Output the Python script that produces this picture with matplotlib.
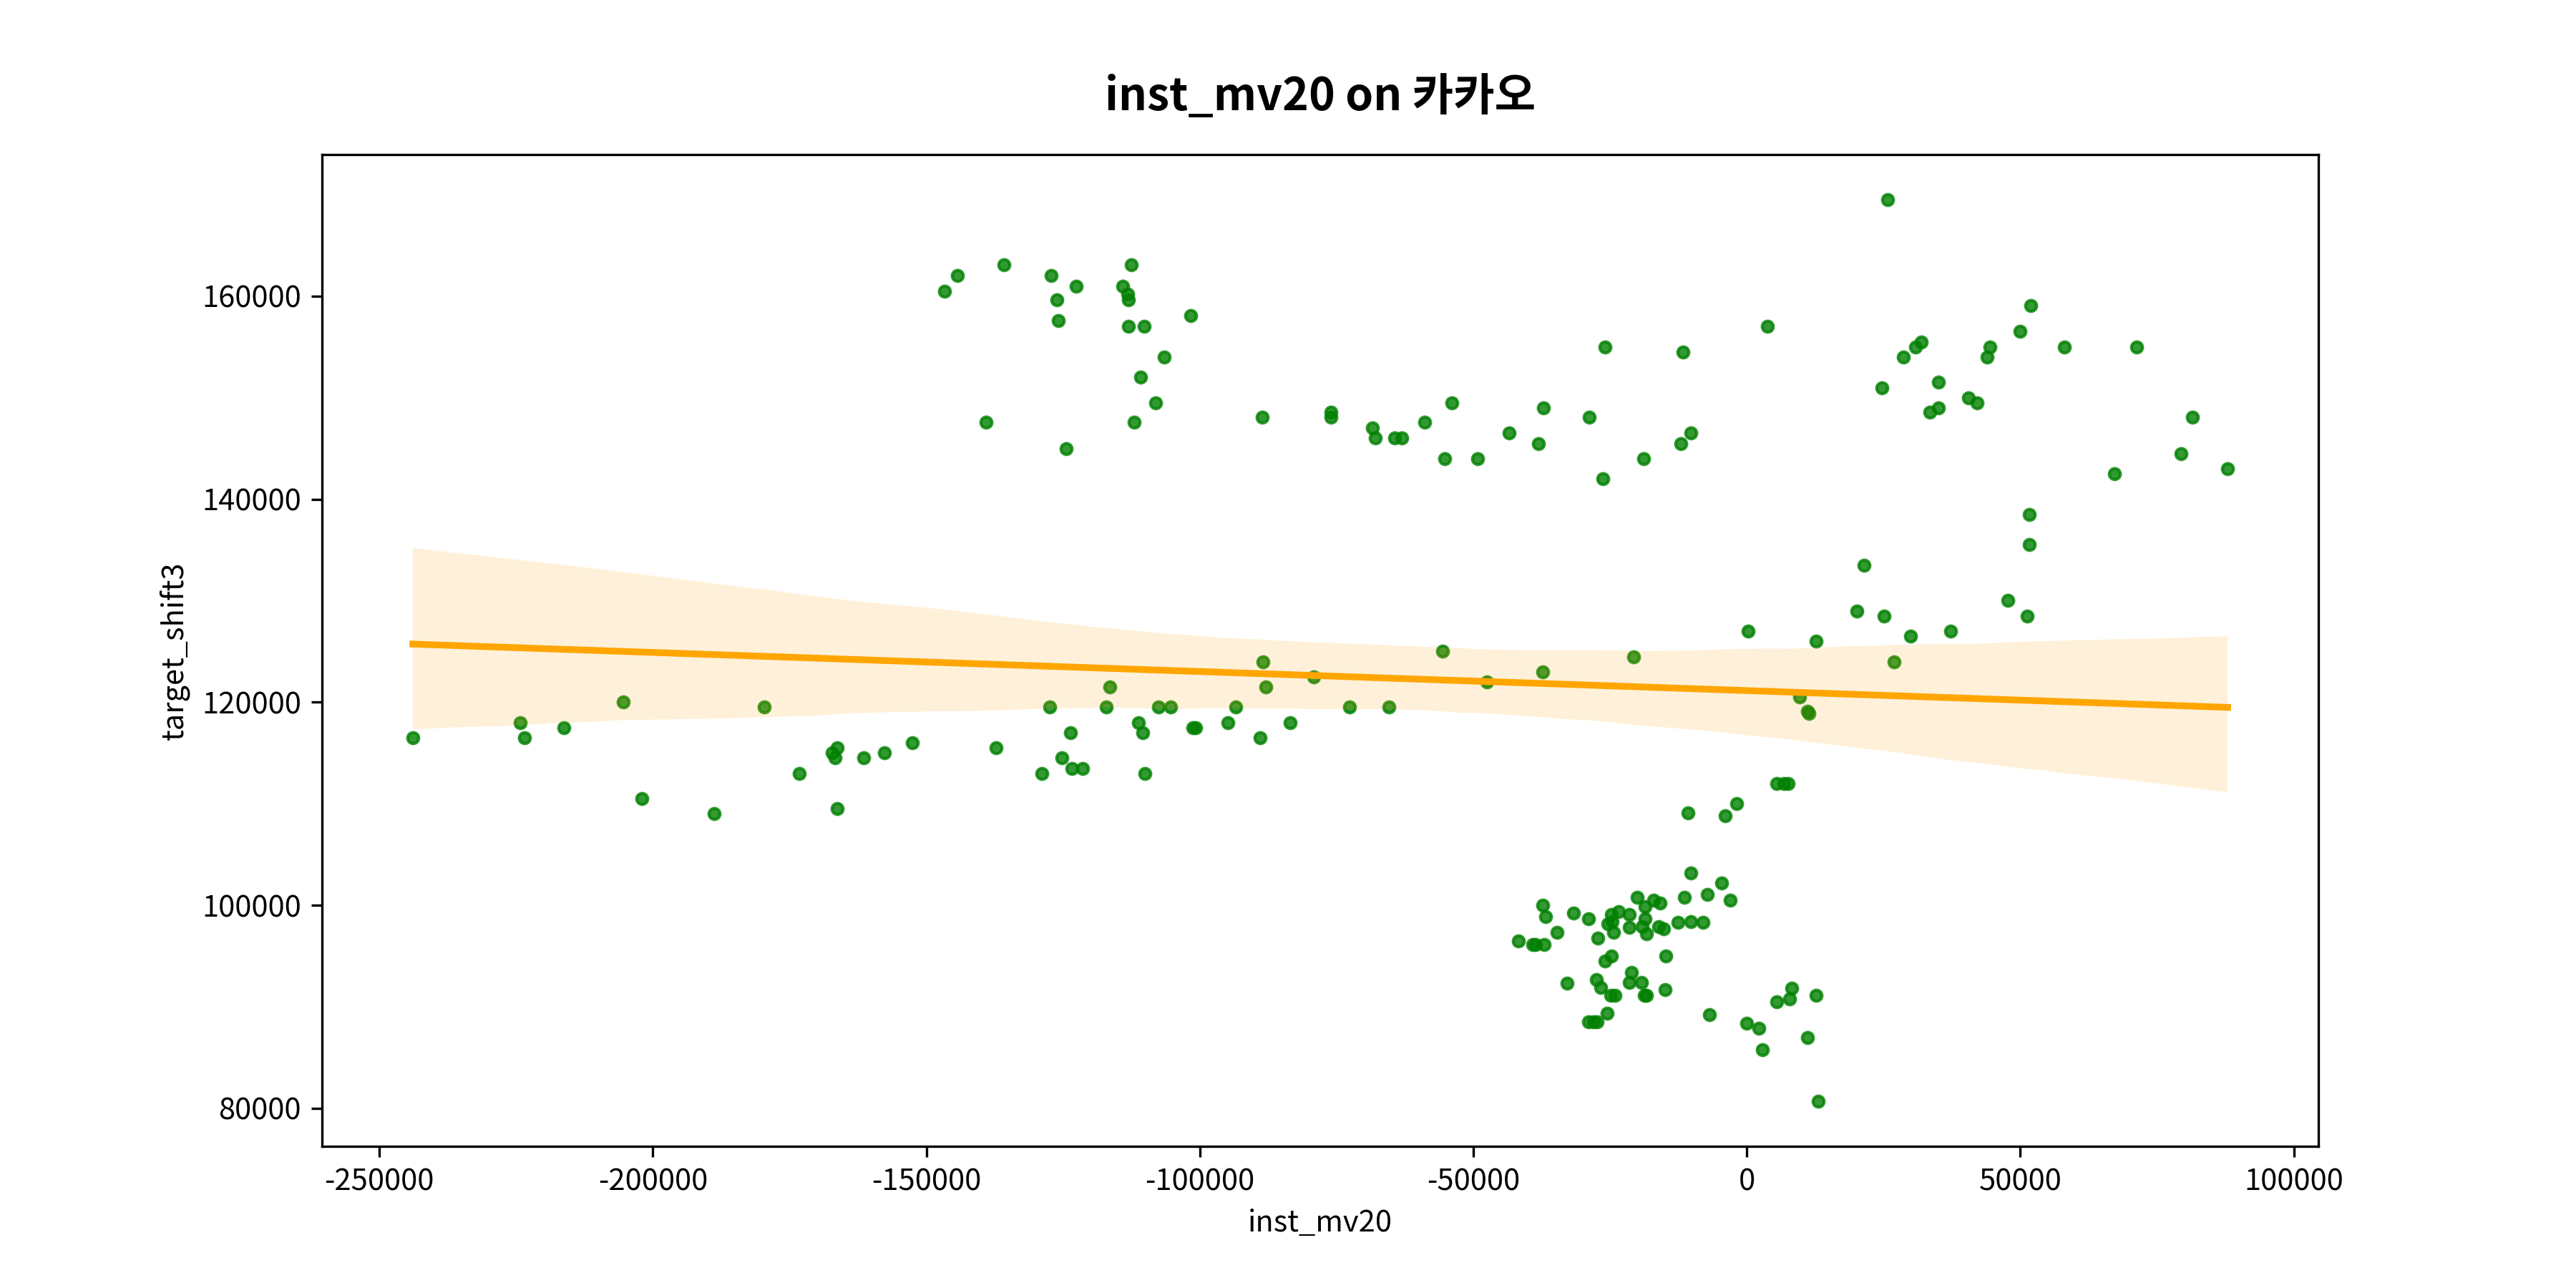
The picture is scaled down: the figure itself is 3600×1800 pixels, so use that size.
import matplotlib
matplotlib.use('Agg')
import matplotlib.pyplot as plt
import numpy as np
import seaborn as sns

plt.rcParams['font.family'] = ['Noto Sans CJK KR', 'DejaVu Sans']
plt.rcParams['axes.unicode_minus'] = False

# values
# upper-left cluster
x_ul = [-146700, -144300, -135800, -127200, -122600, -126100, -125900, -139100, -124400, -112500,
        -114100, -113200, -113100, -101700, -113100, -110200, -106500, -110800, -108100, -112000]
y_ul = [160500, 162000, 163100, 162000, 161000, 159600, 157600, 147600, 145000, 163100,
        161000, 160200, 159600, 158100, 157000, 157000, 154000, 152000, 149500, 147600]

# upper middle row
x_um = [-88600, -76100, -76100, -68500, -67900, -64400, -63100, -58900, -55200, -53900, -49200,
        -43500, -38100, -37200, -28800, -26000, -26300, -18900, -12100, -10300, -11700, 3800]
y_um = [148100, 148100, 148600, 147000, 146000, 146000, 146000, 147600, 144000, 149500, 144000,
        146500, 145500, 149000, 148100, 155000, 142000, 144000, 145500, 146500, 154500, 157000]

# upper right cluster
x_ur = [25700, 51900, 49900, 31900, 30800, 28600, 44400, 43900, 58000, 71300, 24700,
        35000, 40500, 42100, 35000, 33400, 81500, 79400, 87900, 67200, 51700]
y_ur = [169500, 159100, 156500, 155500, 155000, 154000, 155000, 154000, 155000, 155000, 151000,
        151500, 150000, 149500, 149000, 148600, 148100, 144500, 143000, 142500, 138500]

# right middle
x_rm = [51700, 21400, 47700, 51300, 20100, 25100, 200, 12600, 29900, 37200, 26900, 9700, 11100, 11400]
y_rm = [135500, 133500, 130000, 128500, 129000, 128500, 127000, 126000, 126500, 127000, 124000,
        120500, 119100, 118900]

# left row
x_lr = [-243900, -224300, -223500, -216300, -205400, -202000, -188800, -179700, -173300, -166300,
        -167200, -166700, -166300, -161400, -157700, -152600, -137200, -128900, -127400, -125200,
        -123700, -123400, -121400, -117100, -116500, -111200, -110500, -110100, -107500, -105400,
        -101300, -100800, -94900, -93500, -89000, -88400, -87900, -83500, -79200, -72600,
        -65500, -55600, -47500, -37300, -20700]
y_lr = [116500, 118000, 116500, 117500, 120000, 110500, 109000, 119500, 113000, 115500,
        115000, 114500, 109500, 114500, 115000, 116000, 115500, 113000, 119500, 114500,
        117000, 113500, 113500, 119500, 121500, 118000, 117000, 113000, 119500, 119500,
        117500, 117500, 118000, 119500, 116500, 124000, 121500, 118000, 122500, 119500,
        119500, 125000, 122000, 123000, 124500]

# lower cluster
x_lo = [5500, 6800, 7500, -1800, -10700, -3900, -10300, -4600, -11400, -7200,
        -3000, -20000, -17000, -15800, -18600, -37300, -36800, -31700, -28900, -23500,
        -24800, -25400, -24600, -21500, -21500, -18600, -19100, -18400, -24300, -27200,
        -16100, -15200, -12600, -10200, -8000, -34700, -41700, -39200, -38600, -37000,
        -24800, -26000, -14800, -21100, -21500, -19300, -27500, -26700, -32900, -24900,
        -24100, -18800, -18400, -14900, -25500, -29000, -28000, -27400, -6900, 0,
        2200, 2800, 11100, 5400, 7800, 8200, 12700, 13000]
y_lo = [112000, 112000, 112000, 110000, 109100, 108800, 103200, 102200, 100800, 101100,
        100500, 100800, 100500, 100200, 99900, 100000, 98900, 99200, 98700, 99400,
        99100, 98200, 98400, 99100, 97800, 98700, 97900, 97200, 97300, 96800,
        97900, 97700, 98300, 98400, 98300, 97300, 96500, 96100, 96100, 96100,
        95000, 94500, 95000, 93400, 92400, 92400, 92700, 91900, 92300, 91100,
        91100, 91100, 91100, 91700, 89400, 88500, 88500, 88500, 89200, 88400,
        87900, 85800, 87000, 90500, 90800, 91800, 91100, 80700]

inst_mv20 = np.array(x_ul + x_um + x_ur + x_rm + x_lr + x_lo, dtype=float)
target_shift3 = np.array(y_ul + y_um + y_ur + y_rm + y_lr + y_lo, dtype=float)

fig, ax = plt.subplots(figsize=(12, 6), dpi=300)
sns.regplot(x=inst_mv20, y=target_shift3, ax=ax, seed=0,
            scatter_kws={'color': 'green', 's': 14},
            line_kws={'color': 'orange'})
ax.set_xlabel('inst_mv20', fontsize=10)
ax.set_ylabel('target_shift3', fontsize=10)
ax.set_title('inst_mv20 on 카카오', fontsize=15, fontweight='bold', pad=15)

plt.savefig('out.png', dpi=300)
